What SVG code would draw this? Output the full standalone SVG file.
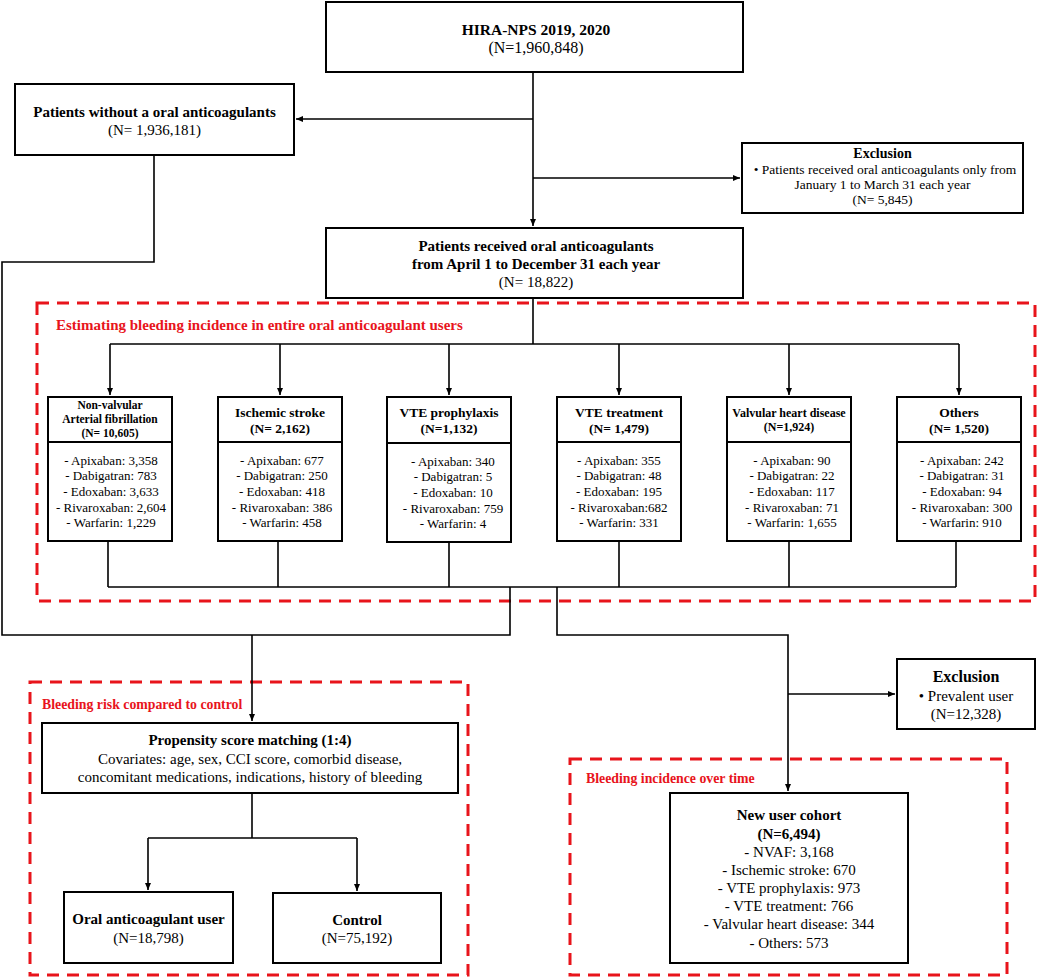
<svg xmlns="http://www.w3.org/2000/svg" width="1038" height="978" viewBox="0 0 1038 978">
<defs>
<marker id="arr" markerUnits="userSpaceOnUse" markerWidth="8" markerHeight="8" viewBox="0 0 8 8" refX="7" refY="4" orient="auto">
<path d="M0,1 L7,4 L0,7 Z" fill="#000"/>
</marker>
<style>
text{font-family:"Liberation Serif","Times New Roman",serif;fill:#000;text-anchor:middle}
.b{font-weight:bold}
.box{fill:#fff;stroke:#000;stroke-width:2}
.ln{fill:none;stroke:#000;stroke-width:1.6}
.red{fill:none;stroke:#e8141b;stroke-width:3;stroke-dasharray:12 8}
.rt{fill:#e8141b;font-weight:bold;text-anchor:start;font-size:13.8px}
.t15{font-size:15px}
.t16{font-size:16px}
.t13{font-size:13px}
.t135{font-size:13.5px}
</style>
</defs>
<rect width="1038" height="978" fill="#fff"/>

<g id="regions">
<rect class="red" x="37" y="303" width="998" height="298"/>
<text class="rt" x="56" y="330" style="font-size:15px">Estimating bleeding incidence in entire oral anticoagulant users</text>
<rect class="red" x="30" y="682" width="438" height="293"/>
<text class="rt" x="42" y="709">Bleeding risk compared to control</text>
<rect class="red" x="570" y="759" width="437" height="216"/>
<text class="rt" x="586" y="783">Bleeding incidence over time</text>
</g>

<g id="connectors">
<path class="ln" d="M533,72 V226" marker-end="url(#arr)"/>
<path class="ln" d="M533,119 H296" marker-end="url(#arr)"/>
<path class="ln" d="M533,178 H740" marker-end="url(#arr)"/>
<path class="ln" d="M533,298 V344"/>
<path class="ln" d="M110,344 H959"/>
<path class="ln" d="M110,344 V395" marker-end="url(#arr)"/>
<path class="ln" d="M280,344 V395" marker-end="url(#arr)"/>
<path class="ln" d="M449,344 V395" marker-end="url(#arr)"/>
<path class="ln" d="M619,344 V395" marker-end="url(#arr)"/>
<path class="ln" d="M789,344 V395" marker-end="url(#arr)"/>
<path class="ln" d="M959,344 V395" marker-end="url(#arr)"/>
<path class="ln" d="M108,541 V587 M278,541 V587 M449,541 V587 M619,541 V587 M789,541 V587 M956,541 V587"/>
<path class="ln" d="M108,587 H956"/>
<path class="ln" d="M154,155 V262 H2 V635 H510 V587"/>
<path class="ln" d="M252,635 V721" marker-end="url(#arr)"/>
<path class="ln" d="M557,587 V635 H788 V791" marker-end="url(#arr)"/>
<path class="ln" d="M788,694 H895" marker-end="url(#arr)"/>
<path class="ln" d="M252,793 V838"/>
<path class="ln" d="M148,838 H357"/>
<path class="ln" d="M148,838 V890" marker-end="url(#arr)"/>
<path class="ln" d="M357,838 V891" marker-end="url(#arr)"/>
</g>

<g id="hira">
<rect class="box" x="326" y="2" width="417" height="70"/>
<text class="b" x="536" y="35" style="font-size:15.5px">HIRA-NPS 2019, 2020</text>
<text class="t16" x="536" y="53">(N=1,960,848)</text>
</g>

<g id="without">
<rect class="box" x="15" y="84" width="279" height="71"/>
<text class="b t15" x="154.5" y="117">Patients without a oral anticoagulants</text>
<text class="t15" x="154.5" y="135">(N= 1,936,181)</text>
</g>

<g id="exclusion1">
<rect class="box" x="742" y="143" width="281" height="70"/>
<text class="b" x="882.5" y="158" style="font-size:14px">Exclusion</text>
<text class="t135" x="885" y="174">• Patients received oral anticoagulants only from</text>
<text class="t135" x="882.5" y="189">January 1 to March 31 each year</text>
<text class="t135" x="882.5" y="204">(N= 5,845)</text>
</g>

<g id="received">
<rect class="box" x="326" y="228" width="417" height="70"/>
<text class="b t15" x="536" y="251">Patients received oral anticoagulants</text>
<text class="b t15" x="536" y="269">from April 1 to December 31 each year</text>
<text class="t15" x="536" y="287">(N= 18,822)</text>
</g>

<g id="nvaf">
<rect class="box" x="48" y="397" width="124" height="144"/>
<path class="ln" d="M48,442 H172" style="stroke-width:2"/>
<text class="b" x="110" y="409" style="font-size:11.5px">Non-valvular</text>
<text class="b" x="110" y="423" style="font-size:11.5px">Arterial fibrillation</text>
<text class="b" x="110" y="437" style="font-size:11.5px">(N= 10,605)</text>
<text class="t13" x="111" y="464.5">- Apixaban: 3,358</text>
<text class="t13" x="111" y="480">- Dabigatran: 783</text>
<text class="t13" x="111" y="496">- Edoxaban: 3,633</text>
<text class="t13" x="111" y="512">- Rivaroxaban: 2,604</text>
<text class="t13" x="111" y="527">- Warfarin: 1,229</text>
</g>

<g id="ischemic">
<rect class="box" x="218" y="397" width="124" height="144"/>
<path class="ln" d="M218,442 H342" style="stroke-width:2"/>
<text class="b t135" x="280" y="417">Ischemic stroke</text>
<text class="b t135" x="280" y="433">(N= 2,162)</text>
<text class="t13" x="282" y="464.5">- Apixaban: 677</text>
<text class="t13" x="282" y="480">- Dabigatran: 250</text>
<text class="t13" x="282" y="496">- Edoxaban: 418</text>
<text class="t13" x="282" y="512">- Rivaroxaban: 386</text>
<text class="t13" x="282" y="527">- Warfarin: 458</text>
</g>

<g id="vtep">
<rect class="box" x="387" y="397" width="124" height="145"/>
<path class="ln" d="M387,443 H511" style="stroke-width:2"/>
<text class="b t135" x="449" y="417">VTE  prophylaxis</text>
<text class="b t135" x="449" y="433">(N=1,132)</text>
<text class="t13" x="453" y="465.5">- Apixaban: 340</text>
<text class="t13" x="453" y="481">- Dabigatran: 5</text>
<text class="t13" x="453" y="497">- Edoxaban: 10</text>
<text class="t13" x="453" y="513">- Rivaroxaban: 759</text>
<text class="t13" x="453" y="528">- Warfarin: 4</text>
</g>

<g id="vtet">
<rect class="box" x="557" y="397" width="124" height="144"/>
<path class="ln" d="M557,442 H681" style="stroke-width:2"/>
<text class="b t135" x="619" y="417">VTE  treatment</text>
<text class="b t135" x="619" y="433">(N= 1,479)</text>
<text class="t13" x="619" y="464.5">- Apixaban: 355</text>
<text class="t13" x="619" y="480">- Dabigatran: 48</text>
<text class="t13" x="619" y="496">- Edoxaban: 195</text>
<text class="t13" x="619" y="512">- Rivaroxaban:682</text>
<text class="t13" x="619" y="527">- Warfarin: 331</text>
</g>

<g id="valvular">
<rect class="box" x="727" y="397" width="124" height="144"/>
<path class="ln" d="M727,442 H851" style="stroke-width:2"/>
<text class="b" x="789" y="417" style="font-size:12px">Valvular heart disease</text>
<text class="b" x="789" y="431" style="font-size:12px">(N=1,924)</text>
<text class="t13" x="792" y="464.5">- Apixaban: 90</text>
<text class="t13" x="792" y="480">- Dabigatran: 22</text>
<text class="t13" x="792" y="496">- Edoxaban: 117</text>
<text class="t13" x="792" y="512">- Rivaroxaban: 71</text>
<text class="t13" x="792" y="527">- Warfarin: 1,655</text>
</g>

<g id="others">
<rect class="box" x="897" y="397" width="124" height="144"/>
<path class="ln" d="M897,442 H1021" style="stroke-width:2"/>
<text class="b t135" x="959" y="417">Others</text>
<text class="b t135" x="959" y="433">(N= 1,520)</text>
<text class="t13" x="962" y="464.5">- Apixaban: 242</text>
<text class="t13" x="962" y="480">- Dabigatran: 31</text>
<text class="t13" x="962" y="496">- Edoxaban: 94</text>
<text class="t13" x="962" y="512">- Rivaroxaban: 300</text>
<text class="t13" x="962" y="527">- Warfarin: 910</text>
</g>

<g id="psm">
<rect class="box" x="42" y="723" width="416" height="70"/>
<text class="b t15" x="250" y="745">Propensity score matching (1:4)</text>
<text class="t15" x="250" y="764">Covariates: age, sex, CCI score, comorbid disease,</text>
<text class="t15" x="250" y="782">concomitant medications, indications, history of bleeding</text>
</g>

<g id="oau">
<rect class="box" x="64" y="892" width="169" height="71"/>
<text class="b t15" x="148.5" y="924">Oral anticoagulant user</text>
<text class="t15" x="148.5" y="943">(N=18,798)</text>
</g>

<g id="control">
<rect class="box" x="273" y="893" width="168" height="70"/>
<text class="b t15" x="357" y="925">Control</text>
<text class="t15" x="357" y="943">(N=75,192)</text>
</g>

<g id="exclusion2">
<rect class="box" x="897" y="659" width="138" height="70"/>
<text class="b t16" x="966" y="682">Exclusion</text>
<text class="t15" x="966" y="701">• Prevalent user</text>
<text class="t15" x="966" y="719">(N=12,328)</text>
</g>

<g id="newuser">
<rect class="box" x="670" y="793" width="238" height="170"/>
<text class="b t15" x="789" y="820">New user cohort</text>
<text class="b t15" x="789" y="839">(N=6,494)</text>
<text class="t15" x="789" y="857">- NVAF: 3,168</text>
<text class="t15" x="789" y="875">- Ischemic stroke: 670</text>
<text class="t15" x="789" y="893">- VTE prophylaxis: 973</text>
<text class="t15" x="789" y="911">- VTE treatment: 766</text>
<text class="t15" x="789" y="929">- Valvular heart disease: 344</text>
<text class="t15" x="789" y="948">- Others: 573</text>
</g>
</svg>
